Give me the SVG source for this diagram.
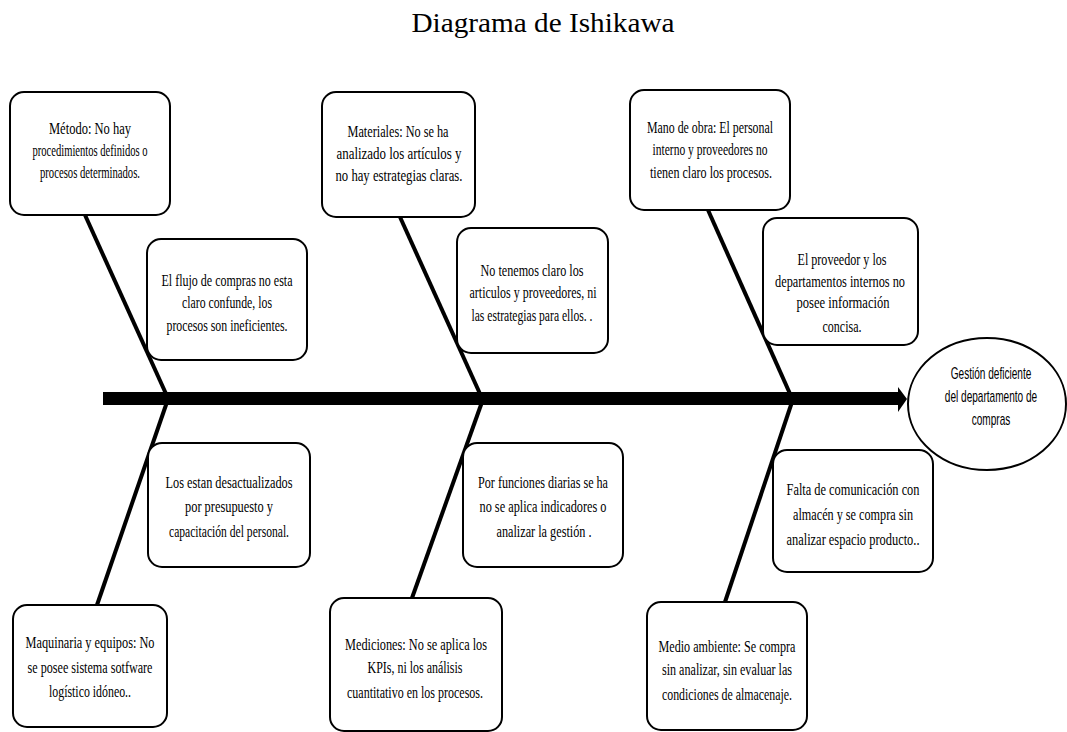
<svg xmlns="http://www.w3.org/2000/svg" width="1067" height="732" viewBox="0 0 1067 732">
<style>
.box{fill:#fff;stroke:#000;stroke-width:2}
.t{font-family:"Liberation Serif","Times New Roman",serif;font-size:16px;fill:#000;text-anchor:middle}
.c{font-family:"Liberation Sans",Arial,sans-serif;font-size:16px;fill:#000;text-anchor:middle}
.bone{stroke:#000;stroke-width:4;fill:none}
</style>
<rect width="1067" height="732" fill="#fff"/>
<text x="543" y="32" font-family="Liberation Serif, Times New Roman, serif" font-size="27" text-anchor="middle" textLength="263" lengthAdjust="spacingAndGlyphs">Diagrama de Ishikawa</text>
<g id="connectors">
<rect x="103" y="392" width="797" height="13" fill="#000"/>
<polygon points="898,387 907,399 898,412" fill="#000"/>
<line class="bone" x1="85" y1="215" x2="167" y2="396"/>
<line class="bone" x1="167" y1="402" x2="97" y2="605"/>
<line class="bone" x1="400" y1="217" x2="481" y2="396"/>
<line class="bone" x1="482" y1="402" x2="412" y2="598"/>
<line class="bone" x1="708" y1="210" x2="791" y2="396"/>
<line class="bone" x1="792" y1="402" x2="725" y2="602"/>
</g>
<g id="n1"><rect class="box" x="10" y="92" width="160" height="123" rx="14"/>
<text class="t" x="90" y="134" textLength="82" lengthAdjust="spacingAndGlyphs">Método: No hay</text>
<text class="t" x="90" y="156" textLength="115" lengthAdjust="spacingAndGlyphs">procedimientos definidos o</text>
<text class="t" x="90" y="178" textLength="100" lengthAdjust="spacingAndGlyphs">procesos determinados.</text></g>
<g id="n2"><rect class="box" x="147" y="239" width="160" height="121" rx="14"/>
<text class="t" x="227" y="286" textLength="131" lengthAdjust="spacingAndGlyphs">El flujo de compras no esta</text>
<text class="t" x="227" y="308" textLength="90" lengthAdjust="spacingAndGlyphs">claro confunde, los</text>
<text class="t" x="227" y="331" textLength="121" lengthAdjust="spacingAndGlyphs">procesos son ineficientes.</text></g>
<g id="n3"><rect class="box" x="148" y="443" width="162" height="124" rx="14"/>
<text class="t" x="229" y="488" textLength="127" lengthAdjust="spacingAndGlyphs">Los estan desactualizados</text>
<text class="t" x="229" y="512" textLength="88" lengthAdjust="spacingAndGlyphs">por presupuesto y</text>
<text class="t" x="229" y="537" textLength="120" lengthAdjust="spacingAndGlyphs">capacitación del personal.</text></g>
<g id="n4"><rect class="box" x="13" y="605" width="154" height="122" rx="14"/>
<text class="t" x="90" y="648" textLength="129" lengthAdjust="spacingAndGlyphs">Maquinaria y equipos: No</text>
<text class="t" x="90" y="673" textLength="125" lengthAdjust="spacingAndGlyphs">se posee sistema sotfware</text>
<text class="t" x="90" y="697" textLength="82" lengthAdjust="spacingAndGlyphs">logístico idóneo..</text></g>
<g id="n5"><rect class="box" x="322" y="92" width="153" height="125" rx="14"/>
<text class="t" x="398" y="137" textLength="101" lengthAdjust="spacingAndGlyphs">Materiales: No se ha</text>
<text class="t" x="399" y="159" textLength="125" lengthAdjust="spacingAndGlyphs">analizado los artículos y</text>
<text class="t" x="399" y="181" textLength="127" lengthAdjust="spacingAndGlyphs">no hay estrategias claras.</text></g>
<g id="n6"><rect class="box" x="457" y="228" width="151" height="125" rx="14"/>
<text class="t" x="532" y="276" textLength="103" lengthAdjust="spacingAndGlyphs">No tenemos claro los</text>
<text class="t" x="533" y="298" textLength="127" lengthAdjust="spacingAndGlyphs">articulos y proveedores, ni</text>
<text class="t" x="532" y="321" textLength="121" lengthAdjust="spacingAndGlyphs">las estrategias para ellos. .</text></g>
<g id="n7"><rect class="box" x="463" y="443" width="160" height="124" rx="14"/>
<text class="t" x="543" y="488" textLength="130" lengthAdjust="spacingAndGlyphs">Por funciones diarias se ha</text>
<text class="t" x="543" y="512" textLength="127" lengthAdjust="spacingAndGlyphs">no se aplica indicadores o</text>
<text class="t" x="544" y="537" textLength="95" lengthAdjust="spacingAndGlyphs">analizar la gestión .</text></g>
<g id="n8"><rect class="box" x="330" y="598" width="172" height="133" rx="14"/>
<text class="t" x="416" y="650" textLength="142" lengthAdjust="spacingAndGlyphs">Mediciones: No se aplica los</text>
<text class="t" x="415" y="673" textLength="95" lengthAdjust="spacingAndGlyphs">KPIs, ni los análisis</text>
<text class="t" x="415" y="698" textLength="136" lengthAdjust="spacingAndGlyphs">cuantitativo en los procesos.</text></g>
<g id="n9"><rect class="box" x="630" y="90" width="160" height="120" rx="14"/>
<text class="t" x="710" y="133" textLength="126" lengthAdjust="spacingAndGlyphs">Mano de obra: El personal</text>
<text class="t" x="710" y="155" textLength="115" lengthAdjust="spacingAndGlyphs">interno y proveedores no</text>
<text class="t" x="711" y="178" textLength="122" lengthAdjust="spacingAndGlyphs">tienen claro los procesos.</text></g>
<g id="n10"><rect class="box" x="763" y="218" width="155" height="127" rx="14"/>
<text class="t" x="842" y="265" textLength="89" lengthAdjust="spacingAndGlyphs">El proveedor y los</text>
<text class="t" x="840" y="287" textLength="130" lengthAdjust="spacingAndGlyphs">departamentos internos no</text>
<text class="t" x="843" y="308" textLength="93" lengthAdjust="spacingAndGlyphs">posee información</text>
<text class="t" x="842" y="332" textLength="39" lengthAdjust="spacingAndGlyphs">concisa.</text></g>
<g id="n11"><rect class="box" x="773" y="450" width="160" height="122" rx="14"/>
<text class="t" x="853" y="495" textLength="133" lengthAdjust="spacingAndGlyphs">Falta de comunicación con</text>
<text class="t" x="853" y="520" textLength="120" lengthAdjust="spacingAndGlyphs">almacén y se compra sin</text>
<text class="t" x="853" y="545" textLength="133" lengthAdjust="spacingAndGlyphs">analizar espacio producto..</text></g>
<g id="n12"><rect class="box" x="647" y="602" width="160" height="128" rx="14"/>
<text class="t" x="727" y="652" textLength="137" lengthAdjust="spacingAndGlyphs">Medio ambiente: Se compra</text>
<text class="t" x="727" y="675" textLength="130" lengthAdjust="spacingAndGlyphs">sin analizar, sin evaluar las</text>
<text class="t" x="727" y="700" textLength="130" lengthAdjust="spacingAndGlyphs">condiciones de almacenaje.</text></g>
<g id="effect"><ellipse class="box" cx="987" cy="404" rx="79" ry="66"/>
<g transform="translate(991,0) scale(0.63,1)">
<text class="c" x="0" y="379">Gestión deficiente</text>
<text class="c" x="0" y="402">del departamento de</text>
<text class="c" x="0" y="425">compras</text></g></g>
</svg>
